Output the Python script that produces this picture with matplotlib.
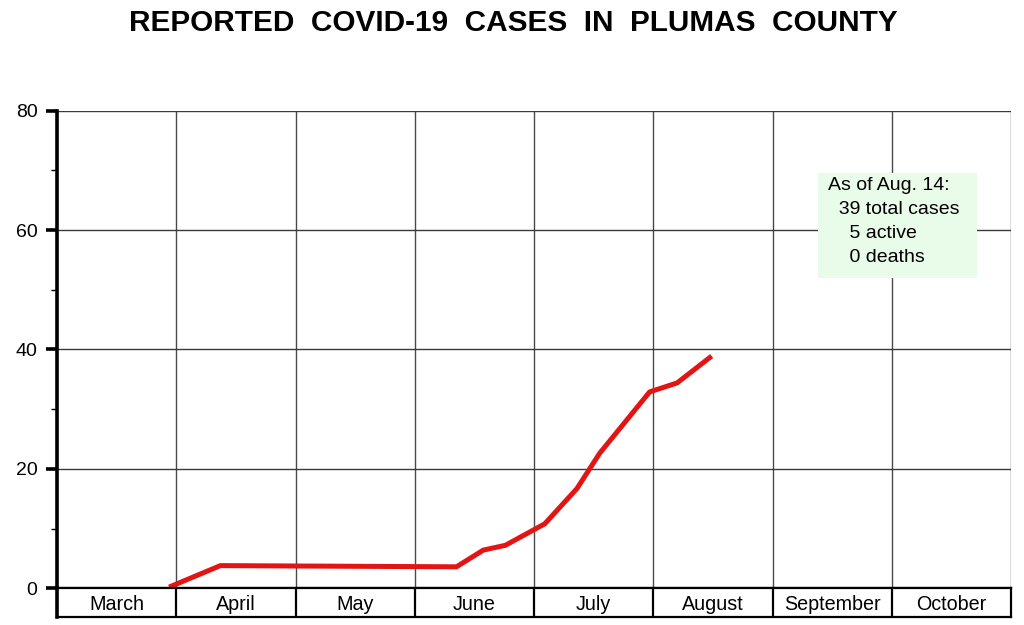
import matplotlib
matplotlib.use("Agg")
import matplotlib.pyplot as plt
from matplotlib.patches import Rectangle

plt.rcParams['font.family'] = ['Liberation Sans', 'DejaVu Sans']

# Data: x position in month units (0 = start of March, equal-width months)
months = ["March", "April", "May", "June", "July", "August", "September", "October"]
month_pos = [0.94, 1.37, 3.35, 3.575, 3.76, 4.09, 4.36, 4.55, 4.97, 5.20, 5.49]
cases = [0.2, 3.8, 3.6, 6.4, 7.2, 10.8, 16.7, 22.6, 32.9, 34.4, 38.9]
y_major = [0, 20, 40, 60, 80]
y_minor = [10, 30, 50, 70]
title = "REPORTED  COVID-19  CASES  IN  PLUMAS  COUNTY"
note_lines = ["As of Aug. 14:", "  39 total cases", "    5 active", "    0 deaths"]

W, H = 1024, 625
fig = plt.figure(figsize=(W / 100, H / 100), dpi=100)

x0, x1 = 57, 1011
ytop, y0, ybot = 110.7, 588.3, 617

ax = fig.add_axes([x0 / W, (H - y0) / H, (x1 - x0) / W, (y0 - ytop) / H])
ax.set_xlim(0, len(months))
ax.set_ylim(0, 80)

# grid
for v in range(1, len(months) + 1):
    ax.axvline(v, color='#4a4a4a', lw=1.0, zorder=1)
for v in y_major[1:]:
    ax.axhline(v, color='#3a3a3a', lw=1.0, zorder=1)

ax.plot(month_pos, cases, color='#e31414', lw=3.6, solid_capstyle='butt',
        solid_joinstyle='round', zorder=3)

for s in ['top', 'right']:
    ax.spines[s].set_visible(False)
ax.spines['left'].set_linewidth(2.6)
ax.spines['bottom'].set_linewidth(1.6)
ax.set_xticks([])
ax.set_yticks(y_major)
ax.set_yticks(y_minor, minor=True)
ax.tick_params(axis='y', which='major', length=8, width=2.6, labelsize=14, pad=6)
ax.tick_params(axis='y', which='minor', length=4, width=1.0)

# month label row
axm = fig.add_axes([x0 / W, (H - ybot) / H, (x1 - x0) / W, (ybot - y0) / H])
axm.set_xlim(0, len(months))
axm.set_ylim(0, 1)
axm.set_xticks([])
axm.set_yticks([])
for s in ['top', 'right', 'bottom']:
    axm.spines[s].set_linewidth(1.6)
axm.spines['left'].set_linewidth(2.6)
for i in range(1, len(months)):
    axm.axvline(i, color='black', lw=1.6)
for i, m in enumerate(months):
    axm.text(i + 0.5, 0.45, m, ha='center', va='center', fontsize=14.2)

# title
fig.text(513 / W, 1 - 23 / H, title, ha='center', va='center',
         fontsize=21.4, fontweight='bold')

# note box
bx0, bx1, by0, by1 = 818, 977, 173, 278
fig.patches.append(Rectangle((bx0 / W, 1 - by1 / H), (bx1 - bx0) / W, (by1 - by0) / H,
                             transform=fig.transFigure, facecolor='#e9fbe9',
                             edgecolor='none', zorder=5))
for i, line in enumerate(note_lines):
    fig.text(828 / W, 1 - (186 + i * 23.7) / H, line, ha='left', va='center',
             fontsize=14, zorder=6)

fig.savefig("out.png", dpi=100)
